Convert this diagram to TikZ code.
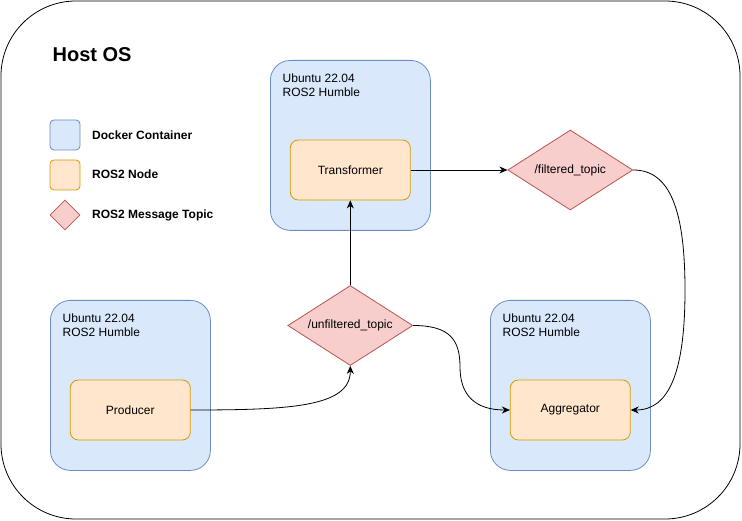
\documentclass[tikz,border=0pt]{standalone}
\usepackage{fontspec}
\setmainfont{Liberation Sans}
\usetikzlibrary{shapes.geometric,arrows.meta}
\definecolor{cfill}{HTML}{DAE8FC}
\definecolor{cline}{HTML}{6C8EBF}
\definecolor{nfill}{HTML}{FFE6CC}
\definecolor{nline}{HTML}{D79B00}
\definecolor{tfill}{HTML}{F8CECC}
\definecolor{tline}{HTML}{B85450}
\begin{document}
\begin{tikzpicture}[x=1pt,y=-1pt,
  every node/.style={font=\fontsize{12}{14.4}\selectfont},
  cont/.style={draw=cline,fill=cfill,line width=0.8pt,rounded corners=20pt,minimum width=160pt,minimum height=170pt,anchor=north west,inner sep=0pt},
  rnode/.style={draw=nline,fill=nfill,line width=0.8pt,rounded corners=8pt,minimum width=120pt,minimum height=60pt,inner sep=0pt},
  topic/.style={diamond,draw=tline,fill=tfill,line width=0.8pt,minimum width=125pt,minimum height=80pt,inner sep=0pt,aspect=1.5625},
  clabel/.style={anchor=base west,align=left,inner sep=0pt},
  leg/.style={anchor=base west,inner sep=0pt,font=\fontsize{12}{14.4}\selectfont\bfseries},
  arr/.style={-{Stealth[length=8pt,width=7pt,inset=2.5pt]},line width=0.8pt}
]
\useasboundingbox (0,0) rectangle (742,521);
% host
\draw[line width=0.8pt,rounded corners=75pt] (1,1) rectangle (740,519);
\node[anchor=base west,inner sep=0pt,font=\fontsize{20}{24}\selectfont\bfseries] (host) at (52.5,62) {Host OS};
% legend
\node[draw=cline,fill=cfill,line width=0.8pt,rounded corners=4pt,minimum size=30pt,inner sep=0pt] (lc) at (65,135) {};
\node[leg] (lct) at (92,139.3) {Docker Container};
\node[draw=nline,fill=nfill,line width=0.8pt,rounded corners=4pt,minimum size=30pt,inner sep=0pt] (ln) at (65,175) {};
\node[leg] (lnt) at (92,179) {ROS2 Node};
\node[diamond,draw=tline,fill=tfill,line width=0.8pt,minimum width=30pt,minimum height=30pt,inner sep=0pt] (lt) at (65,215) {};
\node[leg] (ltt) at (92,218.6) {ROS2 Message Topic};
% containers
\node[cont] (ct) at (270,60) {};
\node[clabel] (ctl1) at (282.5,82.3) {Ubuntu 22.04};
\node[clabel] (ctl2) at (282.5,96.7) {ROS2 Humble};
\node[cont] (cp) at (50,300) {};
\node[clabel] (cpl1) at (62.5,322.3) {Ubuntu 22.04};
\node[clabel] (cpl2) at (62.5,336.7) {ROS2 Humble};
\node[cont] (ca) at (490,300) {};
\node[clabel] (cal1) at (502.5,322.3) {Ubuntu 22.04};
\node[clabel] (cal2) at (502.5,336.7) {ROS2 Humble};
% ros nodes
\node[rnode] (tr) at (350.3,170) {Transformer};
\node[rnode] (pr) at (130.3,410) {Producer};
\node[rnode] (ag) at (570.3,410) {Aggregator};
% topics
\node[topic] (ft) at (570.3,170) {/filtered\_topic};
\node[topic] (ut) at (350.3,325.5) {/unfiltered\_topic};
% edges
\draw[arr] (pr.east) .. controls (290,410) and (350.3,407) .. (ut.south);
\draw[arr] (ut.north) -- (tr.south);
\draw[arr] (tr.east) -- (ft.west);
\draw[arr] (ft.east) .. controls (670,170) and (685,210) .. (685,290) .. controls (685,370) and (670,410) .. (ag.east);
\draw[arr] (ut.east) .. controls (450,325.5) and (460,340) .. (460,367) .. controls (460,395) and (475,410) .. (ag.west);
\end{tikzpicture}
\end{document}
